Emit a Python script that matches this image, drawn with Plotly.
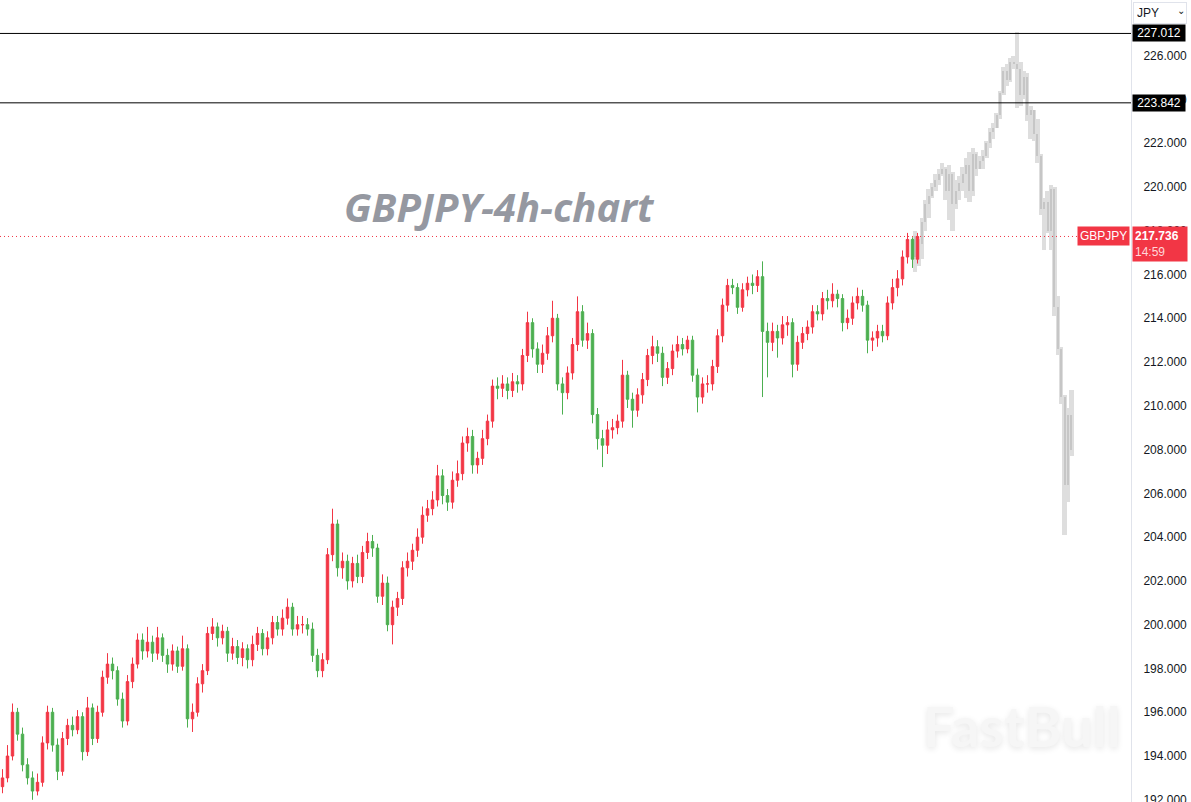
import plotly.graph_objects as go

# ---------------- data ----------------
symbol = "GBPJPY"
chart_title = "GBPJPY-4h-chart"
currency = "JPY"
countdown = "14:59"
watermark = "FastBull"

first_open = 192.6
closes = [
    193.0, 194.0, 196.0, 195.0, 193.6, 193.0, 192.4, 192.8, 194.6, 196.0,
    194.5, 193.3, 194.8, 195.4, 195.2, 195.8, 194.2, 196.2, 194.8, 196.0,
    197.6, 198.2, 197.9, 196.6, 195.6, 197.4, 198.2, 199.3, 198.8, 199.2,
    198.7, 199.4, 198.6, 198.2, 198.8, 198.1, 198.9, 195.7, 196.0, 197.3,
    197.9, 199.6, 199.9, 199.4, 199.7, 198.7, 199.0, 198.5, 198.9, 198.4,
    199.1, 199.6, 198.9, 199.4, 200.1, 199.8, 200.3, 200.8, 199.8, 200.0,
    200.0, 199.8, 198.6, 197.9, 198.4, 203.2, 204.6, 202.6, 202.9, 202.0,
    202.8, 202.2, 203.3, 203.8, 203.5, 201.3, 201.9, 200.0, 200.8, 201.2,
    202.6, 202.9, 203.4, 204.0, 205.0, 205.3, 205.7, 206.8, 205.9, 205.6,
    206.6, 206.9, 208.3, 208.6, 207.3, 207.6, 208.5, 209.3, 210.9, 210.8,
    211.0, 210.7, 211.1, 211.0, 212.3, 213.8, 212.6, 211.9, 212.4, 213.2,
    214.0, 211.0, 210.6, 211.5, 212.8, 214.3, 213.0, 213.3, 209.6, 208.5,
    208.2, 208.9, 209.0, 209.3, 211.4, 210.3, 209.8, 210.5, 211.2, 212.3,
    212.7, 212.4, 211.3, 211.7, 212.5, 212.8, 212.6, 213.0, 211.4, 210.4,
    211.0, 211.0, 211.8, 213.2, 214.6, 215.5, 215.4, 214.5, 215.3, 215.6,
    215.5, 215.9, 213.4, 212.9, 213.4, 213.1, 213.7, 213.8, 211.9, 212.9,
    213.3, 213.6, 214.3, 214.2, 214.9, 214.8, 215.1, 214.9, 213.8, 214.0,
    214.7, 215.0, 214.6, 213.0, 213.1, 213.4, 213.2, 214.7, 215.4, 215.8,
    216.8, 217.6, 216.7, 217.736,
]
highs = [
    193.4, 194.5, 196.4, 196.2, 195.3, 193.9, 193.3, 193.2, 194.9, 196.3,
    196.2, 194.8, 195.1, 195.7, 195.8, 196.1, 196.0, 196.7, 196.4, 196.3,
    197.9, 198.7, 198.5, 198.1, 196.9, 197.7, 198.5, 199.6, 199.6, 199.9,
    199.5, 199.9, 199.6, 198.9, 199.1, 199.0, 199.5, 199.1, 196.4, 197.6,
    198.2, 199.9, 200.3, 200.1, 200.0, 199.9, 199.4, 199.3, 199.2, 199.1,
    199.5, 199.9, 199.8, 199.7, 200.4, 200.4, 200.7, 201.2, 201.0, 200.4,
    200.4, 200.3, 200.1, 198.9, 198.7, 203.5, 205.3, 204.8, 203.3, 203.2,
    203.1, 203.2, 203.6, 204.2, 204.1, 203.7, 202.3, 202.2, 201.1, 201.5,
    202.9, 203.3, 203.7, 204.4, 205.4, 205.7, 206.1, 207.3, 207.1, 206.2,
    207.0, 207.5, 208.6, 209.0, 208.9, 207.9, 208.9, 209.6, 211.2, 211.3,
    211.4, 211.3, 211.5, 211.4, 212.6, 214.3, 214.0, 212.9, 212.8, 213.6,
    214.8, 214.2, 211.3, 211.8, 213.1, 215.0, 214.6, 213.8, 213.5, 209.9,
    208.9, 209.3, 209.4, 209.6, 212.1, 211.6, 210.6, 210.8, 211.5, 212.6,
    213.2, 213.0, 212.7, 212.0, 212.8, 213.2, 213.1, 213.2, 213.2, 211.7,
    211.3, 211.4, 212.1, 213.5, 214.9, 215.8, 215.8, 215.6, 215.6, 215.9,
    216.0, 216.2, 216.6, 213.8, 213.8, 213.7, 214.1, 214.1, 214.0, 213.2,
    213.6, 213.9, 214.6, 214.6, 215.2, 215.3, 215.6, 215.3, 215.1, 214.4,
    215.0, 215.4, 215.3, 214.8, 213.4, 213.7, 213.7, 215.0, 215.8, 216.2,
    217.1, 217.9, 217.7, 217.9,
]
lows = [
    192.3, 192.8, 193.8, 194.7, 193.3, 192.7, 192.0, 192.2, 192.6, 194.3,
    194.2, 192.9, 193.1, 194.5, 194.9, 195.0, 193.8, 194.0, 194.5, 194.6,
    195.8, 197.3, 197.5, 196.3, 195.3, 195.4, 197.1, 198.0, 198.4, 198.5,
    198.3, 198.4, 198.3, 197.8, 197.9, 197.8, 197.9, 195.3, 195.1, 195.8,
    196.9, 197.7, 199.3, 199.0, 199.1, 198.3, 198.4, 198.2, 198.1, 198.0,
    198.1, 198.8, 198.6, 198.6, 199.1, 199.5, 199.5, 200.0, 199.5, 199.5,
    199.6, 199.5, 198.3, 197.6, 197.6, 198.2, 202.9, 202.2, 202.1, 201.6,
    201.7, 201.9, 201.9, 203.0, 203.1, 201.0, 200.9, 199.7, 199.1, 200.4,
    200.9, 202.2, 202.5, 203.1, 203.7, 204.7, 205.0, 205.4, 205.5, 205.2,
    205.3, 206.3, 206.6, 207.9, 206.9, 206.9, 207.3, 208.2, 209.0, 210.3,
    210.4, 210.3, 210.4, 210.6, 210.7, 212.0, 212.2, 211.5, 211.5, 212.1,
    212.9, 210.7, 209.6, 210.3, 211.2, 212.5, 212.7, 212.6, 209.2, 208.0,
    207.2, 207.8, 208.5, 208.7, 209.0, 209.9, 209.0, 209.5, 210.1, 210.9,
    211.9, 212.0, 210.9, 211.0, 211.4, 212.2, 212.3, 212.4, 211.1, 209.7,
    210.1, 210.6, 210.7, 211.5, 212.9, 214.3, 215.1, 214.2, 214.3, 215.0,
    215.1, 215.2, 210.4, 211.3, 212.5, 212.2, 212.8, 213.2, 211.3, 211.6,
    212.6, 213.0, 213.3, 213.9, 213.9, 214.4, 214.5, 214.5, 213.4, 213.5,
    213.7, 214.4, 214.3, 212.4, 212.5, 212.7, 212.9, 213.0, 214.4, 215.0,
    215.5, 216.5, 216.3, 216.5,
]
opens = [first_open] + closes[:-1]

# grey projection bars
gray_close = [
    216.8, 217.4, 218.4, 219.2, 219.6, 220.0, 220.3, 220.6, 220.8, 219.8,
    220.6, 219.2, 219.8, 220.2, 220.6, 221.0, 219.8, 221.5, 220.8, 221.2,
    221.4, 222.0, 222.5, 222.7, 223.3, 224.3, 225.3, 224.9, 225.7, 225.6,
    225.4, 224.2, 225.0, 223.3, 223.5, 222.4, 221.4, 219.0, 219.3, 218.0,
    219.9, 214.5, 212.6, 210.4, 206.4, 209.6, 208.0,
]
gray_high = [
    218.0, 217.6, 218.6, 219.4, 219.9, 220.2, 220.6, 220.8, 221.1, 220.9,
    221.0, 220.7, 220.3, 220.5, 220.9, 221.3, 221.6, 221.8, 221.6, 221.4,
    221.7, 222.1, 222.7, 222.9, 223.4, 224.4, 225.5, 225.6, 225.9, 226.0,
    227.1, 225.7, 225.3, 225.2, 223.7, 223.5, 223.1, 221.5, 219.5, 219.8,
    220.1, 220.0, 215.0, 212.7, 210.5, 209.9, 210.7,
]
gray_low = [
    216.1, 216.4, 216.7, 218.0, 218.6, 219.5, 219.8, 220.1, 220.5, 219.4,
    218.5, 218.0, 219.0, 219.4, 219.8, 219.5, 219.3, 219.6, 220.5, 220.8,
    220.8, 221.3, 221.8, 222.2, 222.7, 223.1, 224.2, 224.6, 224.8, 225.4,
    223.6, 223.7, 224.0, 223.0, 222.2, 222.1, 221.1, 218.7, 217.1, 217.9,
    217.1, 214.1, 212.3, 210.1, 204.1, 205.6, 207.7,
]
gray_open = [closes[-1]] + gray_close[:-1]

levels = [227.012, 223.842]
last_price = closes[-1]

# ---------------- styling ----------------
UP = "#f23645"     # red = rising (Chinese convention)
DOWN = "#4caf50"   # green = falling
GRAY_BODY = "#dedede"
GRAY_WICK = "#c6c6c6"
TAG_FONT = "Liberation Sans, Arial"

x_col = list(range(len(closes)))
gray_step = 0.68
gray_start = len(closes) - 1.5
x_gray = [gray_start + gray_step * k for k in range(len(gray_close))]

fig = go.Figure()

fig.add_trace(go.Candlestick(
    x=x_col, open=opens, high=highs, low=lows, close=closes,
    increasing=dict(line=dict(color=UP, width=1), fillcolor=UP),
    decreasing=dict(line=dict(color=DOWN, width=1), fillcolor=DOWN),
    whiskerwidth=0, showlegend=False, hoverinfo="skip",
))

body_base = [min(o, c) for o, c in zip(gray_open, gray_close)]
body_len = [max(abs(c - o), 0.08) for o, c in zip(gray_open, gray_close)]
fig.add_trace(go.Bar(
    x=x_gray, base=gray_low, y=[h - l for h, l in zip(gray_high, gray_low)],
    width=0.85, marker=dict(color=GRAY_BODY, line=dict(width=0)),
    showlegend=False, hoverinfo="skip",
))
fig.add_trace(go.Bar(
    x=x_gray, base=body_base, y=body_len,
    width=0.2, marker=dict(color=GRAY_WICK, line=dict(width=0)),
    showlegend=False, hoverinfo="skip",
))

shapes = []
for lv in levels:
    shapes.append(dict(type="line", xref="paper", yref="y", x0=0, x1=1, y0=lv, y1=lv,
                       line=dict(color="#000000", width=1), layer="above"))
shapes.append(dict(type="line", xref="paper", yref="y", x0=0, x1=1,
                   y0=last_price, y1=last_price,
                   line=dict(color=UP, width=1, dash="1px,3px"), layer="above"))

annotations = []
for lv in levels:
    annotations.append(dict(
        xref="paper", yref="y", x=1, y=lv, xanchor="left", yanchor="middle",
        text=f"{lv:.3f}", showarrow=False, bgcolor="#000000",
        font=dict(family=TAG_FONT, size=12, color="#ffffff"),
        width=50, align="center", borderpad=1, xshift=1,
    ))
annotations.append(dict(
    xref="paper", yref="y", x=1, y=last_price, xanchor="left", yanchor="top",
    text=f"<b>{last_price:.3f}</b><br><span style='color:#ffd6d9'>{countdown}</span>",
    showarrow=False, bgcolor=UP, align="left",
    font=dict(family=TAG_FONT, size=12, color="#ffffff"),
    width=50, borderpad=2, xshift=1, yshift=10,
))
annotations.append(dict(
    xref="paper", yref="y", x=1, y=last_price, xanchor="right", yanchor="middle",
    text=symbol, showarrow=False, bgcolor=UP,
    font=dict(family=TAG_FONT, size=12, color="#ffffff"),
    borderpad=2, xshift=-1,
))
annotations.append(dict(
    xref="paper", yref="paper", x=1, y=1, xanchor="left", yanchor="top",
    text=currency, showarrow=False, bgcolor="#ffffff", align="left",
    bordercolor="#e0e3eb", borderwidth=1, borderpad=3, width=46,
    font=dict(family=TAG_FONT, size=12, color="#131722"),
    xshift=2, yshift=-2,
))
annotations.append(dict(
    xref="paper", yref="paper", x=1, y=1, xanchor="left", yanchor="top",
    text="⌄", showarrow=False,
    font=dict(family="DejaVu Sans", size=10, color="#131722"),
    xshift=44, yshift=-3,
))
annotations.append(dict(
    xref="paper", yref="paper", x=0.442, y=0.742, xanchor="center", yanchor="middle",
    text=chart_title, showarrow=False,
    font=dict(family="Open Sans", size=40, color="#9598a1", weight="bold", style="italic"),
))
annotations.append(dict(
    xref="paper", yref="paper", x=0.904, y=0.096, xanchor="center", yanchor="middle",
    text=watermark, showarrow=False,
    font=dict(family="Lato", size=56, color="#f6f6f6", weight="bold",
              shadow="0px 2px 6px rgba(0,0,0,0.10)"),
))

fig.update_layout(
    width=1191, height=802, autosize=False,
    margin=dict(l=0, r=60, t=0, b=0, autoexpand=False),
    paper_bgcolor="#ffffff", plot_bgcolor="#ffffff",
    showlegend=False, barmode="overlay", bargap=0,
    shapes=shapes, annotations=annotations,
    xaxis=dict(visible=False, range=[-0.5, 225.7], rangeslider=dict(visible=False),
               showgrid=False, zeroline=False, automargin=False),
    yaxis=dict(side="right", range=[191.9, 228.54], dtick=2, tick0=0, tickformat=".3f",
               showgrid=False, zeroline=False, showline=True, linecolor="#e0e3eb",
               linewidth=1, ticks="", ticklabelstandoff=9, ticklabeloverflow="allow",
               automargin=False,
               tickfont=dict(family=TAG_FONT, size=12, color="#131722")),
)

fig.write_html("out.html")
